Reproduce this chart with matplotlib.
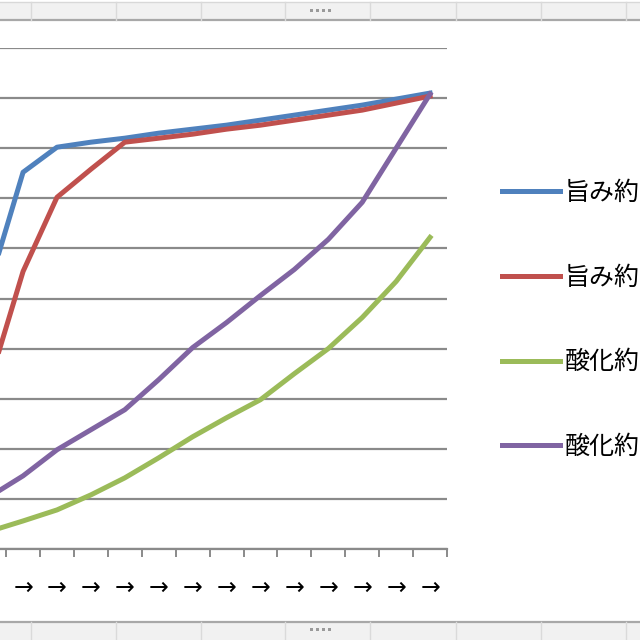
import matplotlib
matplotlib.use("Agg")
import matplotlib.pyplot as plt
from matplotlib.patches import Rectangle
from matplotlib.lines import Line2D

plt.rcParams['font.family'] = ['Noto Sans CJK JP', 'DejaVu Sans']

# categories (the chart is cropped: the first one sits just left of the picture)
categories = ["→"] * 14
labels = ["旨み約", "旨み約", "酸化約", "酸化約"]
colors = ["#4F81BD", "#C0504D", "#9BBB59", "#8064A2"]

umami_1 = [52.6, 75.2, 80.2, 81.2, 82.0, 83.0, 83.8, 84.6, 85.6, 86.6, 87.6, 88.6, 89.8, 91.0]
umami_2 = [33.0, 55.4, 70.2, 75.8, 81.2, 82.0, 82.8, 83.8, 84.6, 85.6, 86.6, 87.6, 89.0, 90.4]
sanka_1 = [3.5, 5.6, 7.8, 10.8, 14.2, 18.2, 22.4, 26.2, 29.8, 35.0, 40.0, 46.2, 53.4, 62.2]
sanka_2 = [10.4, 14.6, 19.8, 23.8, 27.8, 33.8, 40.2, 45.2, 50.6, 55.8, 61.8, 69.2, 80.0, 90.8]
series = [umami_1, umami_2, sanka_1, sanka_2]

W = H = 640
fig = plt.figure(figsize=(6.4, 6.4), dpi=100)

# sheet frame around the chart (top and bottom strips of the spreadsheet)
bg = fig.add_axes([0, 0, 1, 1])
bg.set_xlim(0, W)
bg.set_ylim(H, 0)
bg.axis("off")
bg.add_patch(Rectangle((0, 2), W, 18, facecolor="#f1f1f1", edgecolor="none"))
bg.add_patch(Rectangle((0, 622), W, 18, facecolor="#f1f1f1", edgecolor="none"))
bg.add_line(Line2D([0, W], [2, 2], color="#d8d8d8", lw=1))
bg.add_line(Line2D([0, W], [20, 20], color="#a8a8a8", lw=1.6))
bg.add_line(Line2D([0, W], [622, 622], color="#a8a8a8", lw=1.6))
for xs in [31, 116, 201, 285, 370, 456, 541, 626]:
    bg.add_line(Line2D([xs, xs], [2, 20], color="#dadada", lw=1))
    bg.add_line(Line2D([xs, xs], [622, 640], color="#dadada", lw=1))
for gx in [310, 316, 322, 328]:
    bg.add_patch(Rectangle((gx, 9), 3, 3, facecolor="#9a9a9a", edgecolor="none"))
    bg.add_patch(Rectangle((gx, 628), 3, 3, facecolor="#9a9a9a", edgecolor="none"))

# plot area
ax = fig.add_axes([0, (H - 549) / H, 447 / W, (549 - 48) / H])
ax.set_facecolor("none")
x = list(range(len(categories)))
handles = []
for vals, c, lab in zip(series, colors, labels):
    h, = ax.plot(x, vals, color=c, lw=3.6, label=lab)
    handles.append(h)

ax.set_yticks(range(0, 101, 10))
ax.yaxis.grid(True, color="#8a8a8a", lw=1.6)
ax.set_axisbelow(True)
ax.tick_params(axis="y", left=False, labelleft=False)
for s in ["top", "right", "left"]:
    ax.spines[s].set_visible(False)
ax.spines["bottom"].set_color("#8a8a8a")
ax.spines["bottom"].set_linewidth(1.6)

ax.set_xticks(x)
ax.set_xticklabels(categories, family="DejaVu Sans", fontsize=17)
ax.set_xticks([i + 0.5 for i in x], minor=True)
ax.tick_params(axis="x", which="major", length=0, pad=19)
ax.tick_params(axis="x", which="minor", length=6, width=1.4, color="#8a8a8a")
# limits last, so the ticks do not widen the view
ax.set_xlim(0.32, 13.5)
ax.set_ylim(0, 100)

leg = fig.legend(handles=handles, labels=labels, loc="center left",
                 bbox_to_anchor=(502 / W, 1 - 320 / H), frameon=False,
                 fontsize=18, handlelength=2.3, handletextpad=0.2,
                 labelspacing=2.35, borderpad=0, borderaxespad=0)

fig.savefig("out.png", dpi=100)
